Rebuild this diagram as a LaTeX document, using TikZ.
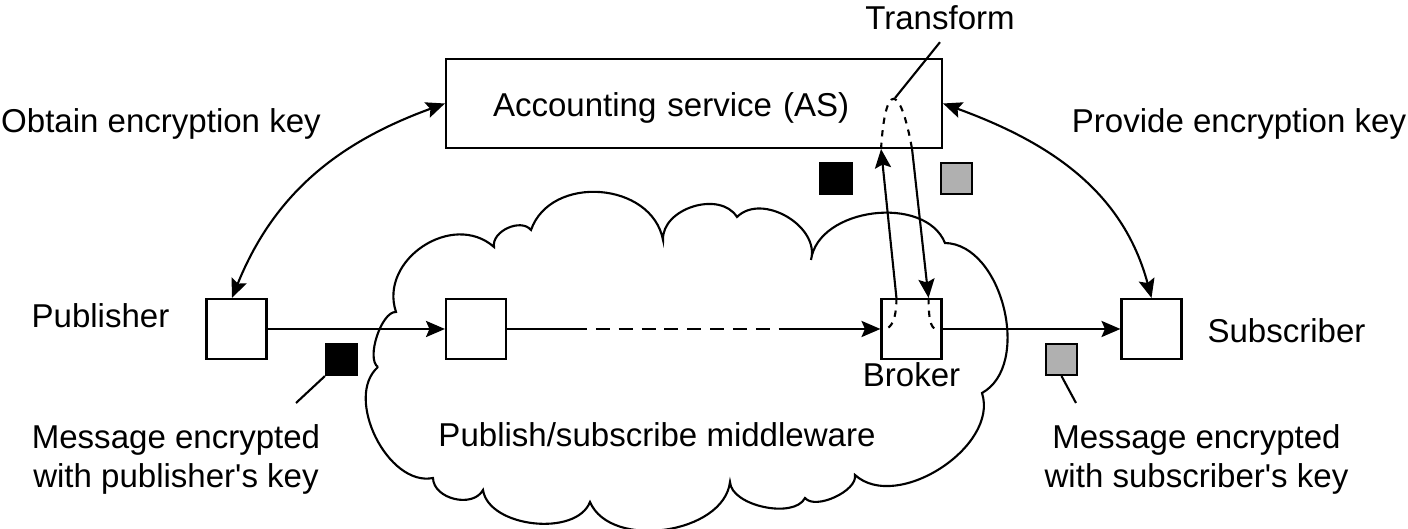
\documentclass[tikz,border=0pt]{standalone}
\usepackage{fontspec}
\setmainfont{Liberation Sans}
\usetikzlibrary{arrows.meta,calc,positioning}

\begin{document}
\begin{tikzpicture}[line width=0.6pt,
    >={Stealth[length=5.4pt,width=4.6pt,inset=1pt]},
    box/.style={draw, minimum size=0.6cm, inner sep=0pt},
    keybox/.style={draw, minimum size=0.31cm, inner sep=0pt},
    twoline/.style={align=center},
    shortdash/.style={dash pattern=on 1.8pt off 1.8pt},
    longdash/.style={dash pattern=on 4pt off 2.5pt}]
    \useasboundingbox (0,0) rectangle (14.08,5.29);
    {\fontsize{9.4}{11.1}\selectfont
      % middleware cloud
      \draw (3.78,1.62) to[bend left=75, looseness=0.65] (3.96,2.17)
        to[bend left=75, looseness=1.2] (4.94,2.82)
        to[bend left=75, looseness=1.0] (5.31,2.99)
        to[bend left=75, looseness=1.15] (6.63,2.89)
        to[bend left=75, looseness=1.05] (7.37,3.12)
        to[bend left=75, looseness=1.05] (8.11,2.69)
        to[bend left=75, looseness=1.0] (9.45,2.86)
        to[bend left=75, looseness=0.95] (9.82,1.36)
        to[bend left=75, looseness=0.95] (8.55,0.54)
        to[bend left=75, looseness=0.75] (8.05,0.31)
        to[bend left=75, looseness=0.8] (7.30,0.47)
        to[bend left=75, looseness=0.95] (5.90,0.27)
        to[bend left=75, looseness=0.9] (4.83,0.39)
        to[bend left=75, looseness=1.05] (4.33,0.51)
        to[bend left=75, looseness=0.95] (3.78,1.62);

      \node(as) at (6.94,4.255) [draw, minimum width=4.96cm, minimum height=0.89cm,
        text width=4.02cm, inner xsep=0.47cm, align=left,
        text height=0.34cm, text depth=0.07cm] {Accounting service (AS)};
      \node(transform) at (9.40,5.11) {Transform};
      \coordinate (tip) at (8.95,4.31);

      \node(pub) at (2.365,2.0) [box] {};
      \node(mid) at (4.76,2.0) [box] {};
      \node(broker) at (9.115,2.0) [box] {};
      \node(sub) at (11.515,2.0) [box] {};

      \node(keyblack) at (8.36,3.505) [keybox, fill=black] {};
      \node(keygrey) at (9.565,3.505) [keybox, fill=black!31] {};
      \node(pubmsg) at (3.415,1.695) [keybox, fill=black] {};
      \node(submsg) at (10.615,1.695) [keybox, fill=black!31] {};

      \node(obtain) at (1.61,4.05) {Obtain encryption key};
      \node(provide) at (12.39,4.05) {Provide encryption key};
      \node(publabel) at (1.005,2.13) {Publisher};
      \node(sublabel) at (12.865,1.98) {Subscriber};
      \node(brokerlabel) at (9.115,1.54) {Broker};
      \node(middleware) at (6.57,0.94) {Publish/subscribe middleware};
      \node(pubtext) at (1.76,0.70) [twoline] {Message encrypted\\with publisher\textquotesingle s key};
      \node(subtext) at (11.965,0.70) [twoline] {Message encrypted\\with subscriber\textquotesingle s key};

      \coordinate (pubptr) at (2.96,1.26);
      \coordinate (subptr) at (10.76,1.26);
      \coordinate (dash1) at (5.73,2.0);
      \coordinate (dash2) at (7.83,2.0);

      \draw (as.west) edge[<->, out=200, in=68] ([xshift=-0.45mm]pub.north);
      \draw (as.east) edge[<->, out=-20, in=105] (sub.north);

      \draw (pub.east) edge[->] (mid.west);
      \draw (mid.east) -- (dash1);
      \draw[longdash] (dash1) -- (dash2);
      \draw (dash2) edge[->] (broker.west);
      \draw (broker.east) edge[->] (sub.west);

      \draw ([xshift=1.6mm]broker.north west) edge[->] ([xshift=-6.2mm]as.south east);
      \draw ([xshift=-3.1mm]as.south east) edge[->] ([xshift=-1.4mm]broker.north east);
      \draw[shortdash] ([xshift=-6.2mm]as.south east) .. controls +(0.04,0.67) and +(-0.12,0.67) .. ([xshift=-3.1mm]as.south east);
      \draw[shortdash] ([xshift=1.6mm]broker.north west) .. controls +(0,-0.2) and +(0.08,0) .. ([xshift=0.35mm]broker.west);
      \draw[shortdash] ([xshift=-1.4mm]broker.north east) .. controls +(0,-0.2) and +(-0.06,0) .. ([xshift=-0.6mm]broker.east);

      \draw (transform.south) -- (tip);
      \draw (pubmsg.south west) -- (pubptr);
      \draw (submsg.south) -- (subptr);
    }
\end{tikzpicture}
\end{document}
